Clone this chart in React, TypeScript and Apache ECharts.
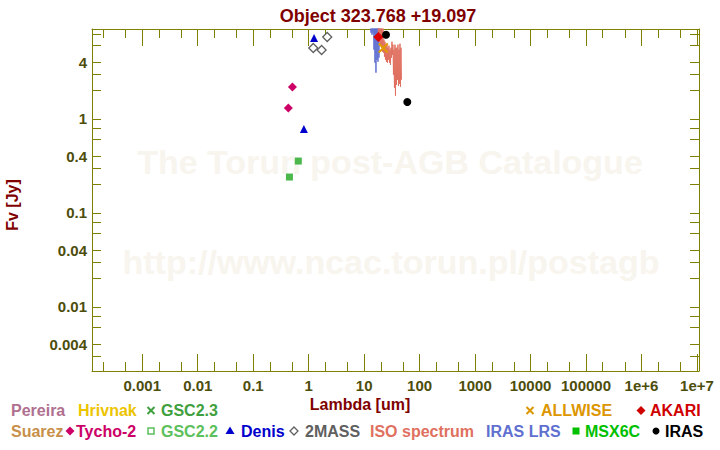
import React, { useEffect, useRef } from 'react';
import * as echarts from 'echarts';

// ---------- texts ----------
const TITLE = 'Object 323.768 +19.097';
const X_NAME = 'Lambda [um]';
const Y_NAME = 'Fv [Jy]';
const WATERMARK_1 = 'The Torun post-AGB Catalogue';
const WATERMARK_2 = 'http://www.ncac.torun.pl/postagb';

// ---------- axis ranges (um, Jy) ----------
const X_RANGE = [1.24e-4, 1.09e7];
const Y_RANGE = [0.00208, 9.0];
const X_MINOR_MULT = [2, 5];
const Y_LABEL_MULT = [1, 4];
const Y_MINOR_MULT = [2, 3, 6, 8];

// ---------- photometry ----------
const tychoLambda = [0.43, 0.51];
const tychoFlux = [1.3, 2.17];
const denisLambda = [0.82, 1.25];
const denisFlux = [0.78, 7.2];
const gsc22Lambda = [0.45, 0.65];
const gsc22Flux = [0.24, 0.355];
const twomassLambda = [1.21, 1.71, 2.16];
const twomassFlux = [5.65, 5.38, 7.4];
const akariLambda = [18.0];
const akariFlux = [7.4];
const allwiseLambda = [22.1];
const allwiseFlux = [5.65];
const irasLambda = [24.8, 60.0];
const irasFlux = [7.83, 1.51];

// ---------- spectra ----------
const lrsLambda = [11.73, 12.22, 12.74, 13.01, 13.28, 13.56, 13.84, 14.13, 14.43, 14.73, 15.04, 15.36, 15.68, 16.01, 16.34, 16.69, 17.03, 17.39, 17.76, 18.13, 18.51, 18.9, 19.29];
const lrsFlux = [11.3, 12.8, 10.0, 11.9, 8.22, 10.8, 7.83, 10.2, 8.02, 10.5, 5.42, 11.0, 3.94, 10.4, 3.09, 10.9, 4.24, 10.2, 4.04, 11.2, 4.46, 10.6, 11.3];

const isoLambda = [17.76, 18.13, 18.51, 18.9, 19.29, 19.7, 20.11, 20.53, 20.96, 21.4, 21.85, 22.31, 22.78, 23.25, 23.74, 24.24, 24.75, 25.27, 25.8, 26.34, 26.89, 27.45, 28.03, 28.61, 29.22, 29.83, 30.45, 31.09, 31.74, 32.41, 33.09, 33.78, 34.49, 35.22, 35.96, 36.71, 37.48, 38.27, 39.07, 39.89, 40.73, 41.59, 42.46, 43.35, 44.26, 45.19, 46.14, 47.1];
const isoFlux = [11.3, 7.27, 10.0, 6.59, 9.5, 6.13, 9.3, 5.69, 9.4, 5.16, 9.2, 5.04, 6.92, 4.57, 6.59, 4.24, 6.13, 4.04, 6.28, 3.94, 5.69, 4.24, 5.98, 3.94, 5.42, 3.75, 5.69, 4.46, 6.59, 4.8, 6.13, 2.94, 5.42, 2.14, 6.13, 1.76, 5.69, 2.3, 5.69, 2.6, 6.13, 2.24, 5.42, 2.36, 6.28, 2.19, 5.69, 2.6];

// ---------- legend ----------
const legendRow1 = [
  { label: 'Pereira', color: '#b07090', x: 11, sym: '', sx: 0 },
  { label: 'Hrivnak', color: '#ecc400', x: 78, sym: '', sx: 0 },
  { label: 'GSC2.3', color: '#40a040', x: 161, sym: 'cross', sx: 151 },
  { label: 'ALLWISE', color: '#dc9600', x: 541, sym: 'cross', sx: 530 },
  { label: 'AKARI', color: '#d00000', x: 650, sym: 'diamond', sx: 641 },
];
const legendRow2 = [
  { label: 'Suarez', color: '#c8904a', x: 11, sym: '', sx: 0 },
  { label: 'Tycho-2', color: '#cc0066', x: 76, sym: 'diamond', sx: 70 },
  { label: 'GSC2.2', color: '#5cc05c', x: 161, sym: 'hollowSquare', sx: 151 },
  { label: 'Denis', color: '#0000cc', x: 241, sym: 'triangle', sx: 230 },
  { label: '2MASS', color: '#606060', x: 305, sym: 'hollowDiamond', sx: 294 },
  { label: 'ISO spectrum', color: '#e07060', x: 370, sym: '', sx: 0 },
  { label: 'IRAS LRS', color: '#6070d0', x: 486, sym: '', sx: 0 },
  { label: 'MSX6C', color: '#00c000', x: 585, sym: 'square', sx: 576 },
  { label: 'IRAS', color: '#000000', x: 665, sym: 'circle', sx: 656 },
];

const OLIVE = '#808000';
const TICK_TEXT = '#4d4d0c';
const DARK_RED = '#800000';
const FONT = '"Liberation Sans", Arial, sans-serif';

const GRID = { left: 92, top: 29, width: 607, height: 342 };

function pairs(l: number[], f: number[]) {
  return l.map((x, i) => [Math.log10(x), Math.log10(f[i])]);
}

function fmtNum(n: number): string {
  if (n >= 1e6) return n.toExponential(0);
  return String(Number(n.toPrecision(6)));
}

function isInt(v: number) {
  return Math.abs(v - Math.round(v)) < 1e-6;
}

const LX0 = Math.log10(X_RANGE[0]);
const LX1 = Math.log10(X_RANGE[1]);
const LY0 = Math.log10(Y_RANGE[0]);
const LY1 = Math.log10(Y_RANGE[1]);

function xAxis(mult: number, position: string, main: boolean, labels: boolean) {
  const s = Math.log10(mult);
  return {
    type: 'value',
    position,
    min: LX0 - s,
    max: LX1 - s,
    minInterval: 1,
    maxInterval: 1,
    splitNumber: 12,
    axisLine: { show: main, onZero: false, lineStyle: { color: OLIVE, width: 1 } },
    axisTick: { show: true, inside: true, length: main ? 17 : 9, lineStyle: { color: OLIVE, width: 1 } },
    splitLine: { show: false },
    axisLabel: {
      show: labels,
      margin: 7,
      color: TICK_TEXT,
      fontFamily: FONT,
      fontWeight: 'bold',
      fontSize: 15,
      showMinLabel: false,
      showMaxLabel: true,
      formatter: (v: number) => (isInt(v) ? fmtNum(mult * Math.pow(10, Math.round(v))) : ''),
    },
  };
}

function yAxis(mult: number, position: string, main: boolean, labels: boolean) {
  const s = Math.log10(mult);
  return {
    type: 'value',
    position,
    min: LY0 - s,
    max: LY1 - s,
    minInterval: 1,
    maxInterval: 1,
    splitNumber: 5,
    axisLine: { show: main, onZero: false, lineStyle: { color: OLIVE, width: 1 } },
    axisTick: { show: true, inside: true, length: 9, lineStyle: { color: OLIVE, width: 1 } },
    splitLine: { show: false },
    axisLabel: {
      show: labels,
      margin: 5,
      color: TICK_TEXT,
      fontFamily: FONT,
      fontWeight: 'bold',
      fontSize: 15,
      showMinLabel: false,
      showMaxLabel: false,
      formatter: (v: number) => (isInt(v) ? fmtNum(mult * Math.pow(10, Math.round(v))) : ''),
    },
  };
}

function legendSymbol(sym: string, cx: number, cy: number, color: string): any {
  switch (sym) {
    case 'cross':
      return {
        type: 'group',
        children: [
          { type: 'line', shape: { x1: cx - 3.5, y1: cy - 3.5, x2: cx + 3.5, y2: cy + 3.5 }, style: { stroke: color, lineWidth: 2 } },
          { type: 'line', shape: { x1: cx - 3.5, y1: cy + 3.5, x2: cx + 3.5, y2: cy - 3.5 }, style: { stroke: color, lineWidth: 2 } },
        ],
      };
    case 'diamond':
      return { type: 'polygon', shape: { points: [[cx, cy - 4.5], [cx + 4.5, cy], [cx, cy + 4.5], [cx - 4.5, cy]] }, style: { fill: color } };
    case 'hollowDiamond':
      return { type: 'polygon', shape: { points: [[cx, cy - 4], [cx + 4, cy], [cx, cy + 4], [cx - 4, cy]] }, style: { fill: '#fff', stroke: color, lineWidth: 1.3 } };
    case 'hollowSquare':
      return { type: 'rect', shape: { x: cx - 3, y: cy - 3, width: 6, height: 6 }, style: { fill: '#fff', stroke: color, lineWidth: 1.5 } };
    case 'square':
      return { type: 'rect', shape: { x: cx - 3.5, y: cy - 3.5, width: 7, height: 7 }, style: { fill: color } };
    case 'triangle':
      return { type: 'polygon', shape: { points: [[cx, cy - 4.5], [cx + 4.5, cy + 3], [cx - 4.5, cy + 3]] }, style: { fill: color } };
    case 'circle':
      return { type: 'circle', shape: { cx, cy, r: 3.5 }, style: { fill: color } };
    default:
      return null;
  }
}

function buildLegend(): any[] {
  const out: any[] = [];
  const rows = [
    { items: legendRow1, y: 410.5 },
    { items: legendRow2, y: 431 },
  ];
  rows.forEach((row) => {
    row.items.forEach((it) => {
      out.push({
        type: 'text',
        x: it.x,
        y: row.y,
        style: { text: it.label, fill: it.color, font: 'bold 16px ' + FONT, align: 'left', verticalAlign: 'middle' },
      });
      const s = legendSymbol(it.sym, it.sx, row.y, it.color);
      if (s) out.push(s);
    });
  });
  return out;
}

export default function App() {
  const ref = useRef<HTMLDivElement>(null);
  useEffect(() => {
    if (!ref.current) return;
    const chart = echarts.init(ref.current, undefined, { renderer: 'svg' });

    const xAxes = [
      xAxis(1, 'bottom', true, true),
      ...X_MINOR_MULT.map((m) => xAxis(m, 'bottom', false, false)),
      xAxis(1, 'top', true, false),
      ...X_MINOR_MULT.map((m) => xAxis(m, 'top', false, false)),
    ];
    const yAxes = [
      ...Y_LABEL_MULT.map((m, i) => yAxis(m, 'left', i === 0, true)),
      ...Y_MINOR_MULT.map((m) => yAxis(m, 'left', false, false)),
      ...Y_LABEL_MULT.map((m, i) => yAxis(m, 'right', i === 0, false)),
      ...Y_MINOR_MULT.map((m) => yAxis(m, 'right', false, false)),
    ];

    const scatter = (name: string, l: number[], f: number[], symbol: string, size: number, itemStyle: any) => ({
      name,
      type: 'scatter',
      xAxisIndex: 0,
      yAxisIndex: 0,
      symbol,
      symbolSize: size,
      itemStyle: { opacity: 1, ...itemStyle },
      data: pairs(l, f),
      z: 5,
    });

    const option: any = {
      animation: false,
      backgroundColor: '#ffffff',
      title: {
        text: TITLE,
        left: 373,
        textAlign: 'center',
        top: 2,
        textStyle: { color: DARK_RED, fontFamily: FONT, fontWeight: 'bold', fontSize: 18 },
      },
      grid: { ...GRID, containLabel: false },
      xAxis: xAxes,
      yAxis: yAxes,
      graphic: [
        {
          type: 'text',
          x: 390,
          y: 162,
          z: -10,
          silent: true,
          style: { text: WATERMARK_1, fill: '#f8f4ee', font: 'bold 34px ' + FONT, align: 'center', verticalAlign: 'middle' },
        },
        {
          type: 'text',
          x: 391,
          y: 262,
          z: -10,
          silent: true,
          style: { text: WATERMARK_2, fill: '#f8f4ee', font: 'bold 34px ' + FONT, align: 'center', verticalAlign: 'middle' },
        },
        {
          type: 'text',
          x: 360,
          y: 404,
          style: { text: X_NAME, fill: DARK_RED, font: 'bold 16px ' + FONT, align: 'center', verticalAlign: 'middle' },
        },
        {
          type: 'text',
          x: 12,
          y: 205,
          rotation: Math.PI / 2,
          style: { text: Y_NAME, fill: DARK_RED, font: 'bold 16px ' + FONT, align: 'center', verticalAlign: 'middle' },
        },
        ...buildLegend(),
      ],
      series: [
        {
          name: 'IRAS LRS',
          type: 'line',
          xAxisIndex: 0,
          yAxisIndex: 0,
          showSymbol: false,
          symbol: 'none',
          lineStyle: { color: '#6070d0', width: 1 },
          data: pairs(lrsLambda, lrsFlux),
          z: 3,
        },
        {
          name: 'ISO spectrum',
          type: 'line',
          xAxisIndex: 0,
          yAxisIndex: 0,
          showSymbol: false,
          symbol: 'none',
          lineStyle: { color: '#e07060', width: 1 },
          data: pairs(isoLambda, isoFlux),
          z: 4,
        },
        scatter('Tycho-2', tychoLambda, tychoFlux, 'diamond', 9, { color: '#cc0066' }),
        scatter('GSC2.2', gsc22Lambda, gsc22Flux, 'rect', 7, { color: '#4cb84c' }),
        scatter('Denis', denisLambda, denisFlux, 'triangle', 8, { color: '#0000cc' }),
        scatter('2MASS', twomassLambda, twomassFlux, 'diamond', 9, { color: '#ffffff', borderColor: '#606060', borderWidth: 1.3 }),
        scatter('ALLWISE', allwiseLambda, allwiseFlux, 'path://M0,0L10,10M10,0L0,10', 9, { color: 'none', borderColor: '#e09a00', borderWidth: 2 }),
        scatter('AKARI', akariLambda, akariFlux, 'diamond', 10, { color: '#dd0000' }),
        scatter('IRAS', irasLambda, irasFlux, 'circle', 8, { color: '#000000' }),
      ],
    };

    chart.setOption(option);
    return () => chart.dispose();
  }, []);

  return <div ref={ref} style={{ position: 'fixed', left: 0, top: 0, width: 720, height: 450 }} />;
}
